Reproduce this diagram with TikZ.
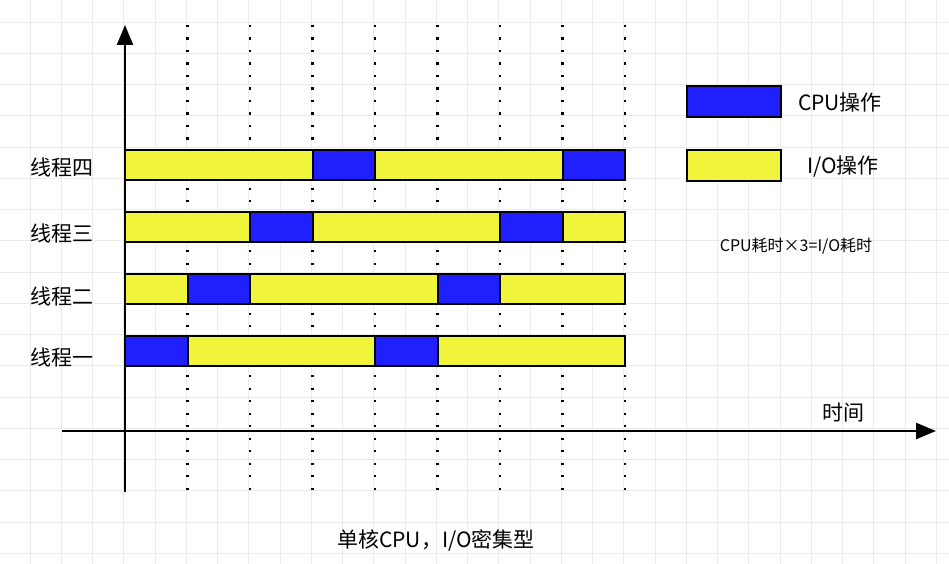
\documentclass[tikz,border=0pt]{standalone}
\usepackage{fontspec}
\setmainfont{Noto Sans CJK SC}
\usetikzlibrary{arrows.meta}
\definecolor{cy}{HTML}{F0F53C}
\definecolor{cb}{HTML}{2020FF}
\tikzset{bar/.style={draw=black,line width=2pt},yb/.style={bar,fill=cy},bb/.style={bar,fill=cb},
lbl/.style={font=\fontsize{21}{21}\selectfont,inner sep=0pt}}
\begin{document}
\begin{tikzpicture}[x=1pt,y=-1pt]
\useasboundingbox (0,0) rectangle (949,564);
\fill[white] (0,0) rectangle (949,564);
\foreach \i in {0,...,30} \draw[black!8,line width=0.8pt] ({30+31.25*\i},0) -- ++(0,564);
\foreach \i in {0,...,18} \draw[black!8,line width=0.8pt] (0,{22+31.25*\i}) -- ++(949,0);
\foreach \i in {1,...,8} \draw[line width=2.4pt,dash pattern=on 2.4pt off 10.1pt] ({125+62.5*\i},25) -- ({125+62.5*\i},492);
\def\row#1#2{\foreach \a/\b/\c in {#2} \draw[\c] (\a,#1) rectangle (\b,#1+30);}
\row{150}{125/312.5/yb,312.5/375/bb,375/562.5/yb,562.5/625/bb}
\row{212}{125/250/yb,250/312.5/bb,312.5/500/yb,500/562.5/bb,562.5/625/yb}
\row{274}{125/187.5/yb,187.5/250/bb,250/437.5/yb,437.5/500/bb,500/625/yb}
\row{336}{125/187.5/bb,187.5/375/yb,375/437.5/bb,437.5/625/yb}
\coordinate (yb) at (125,492); \coordinate (yt) at (125,25);
\coordinate (xl) at (62,431); \coordinate (xr) at (936,431);
\draw[line width=2.4pt,-{Triangle[length=20pt,width=16pt]}] (yb) -- (yt);
\draw[line width=2.4pt,-{Triangle[length=20pt,width=16pt]}] (xl) -- (xr);
\node[lbl] (r4) at (62,167) {线程四};
\node[lbl] (r3) at (62,233) {线程三};
\node[lbl] (r2) at (62,296) {线程二};
\node[lbl] (r1) at (62,357) {线程一};
\draw[bb] (687,86) rectangle (781,117);
\draw[yb] (687,150) rectangle (781,181);
\node[lbl] (l1) at (840,103) {CPU操作};
\node[lbl] (l2) at (843,167) {I/O操作};
\node[lbl,font=\fontsize{16}{16}\selectfont] (note) at (796,246) {CPU耗时×3=I/O耗时};
\node[lbl] (t) at (843,413) {时间};
\node[lbl] (cap) at (436,540) {单核CPU，I/O密集型};
\end{tikzpicture}
\end{document}
